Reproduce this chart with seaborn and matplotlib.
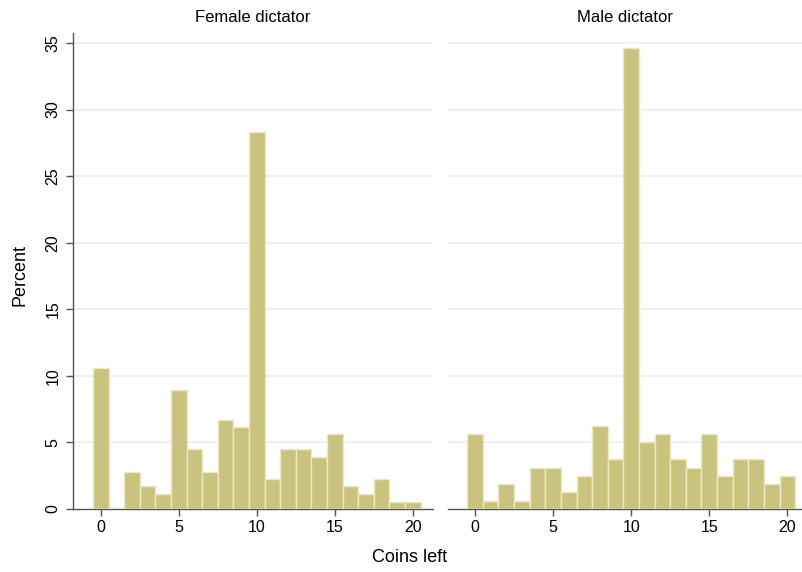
import numpy as np
import matplotlib
matplotlib.use('Agg')
import matplotlib.pyplot as plt
import pandas as pd
import seaborn as sns

coins = list(range(21))
female_pct = [10.6, 0.0, 2.8, 1.7, 1.1, 8.95, 4.5, 2.8, 6.7, 6.15, 28.35,
              2.25, 4.5, 4.5, 3.9, 5.6, 1.7, 1.1, 2.25, 0.56, 0.56]
male_pct = [5.6, 0.62, 1.9, 0.62, 3.1, 3.1, 1.25, 2.5, 6.2, 3.75, 34.65,
            5.0, 5.6, 3.75, 3.1, 5.6, 2.5, 3.75, 3.75, 1.9, 2.5]
panel_titles = ['Female dictator', 'Male dictator']
y_ticks = [0, 5, 10, 15, 20, 25, 30, 35]
x_ticks = [0, 5, 10, 15, 20]

sns.set_style('white')
plt.rcParams['font.family'] = ['Liberation Sans', 'DejaVu Sans']
plt.rcParams['text.color'] = 'black'
plt.rcParams['xtick.color'] = 'black'
plt.rcParams['ytick.color'] = 'black'

bar_color = '#CAC37F'
edge_color = '#EDE9BE'
grid_color = '#E8EFF3'
axis_color = '#555555'

fig = plt.figure(figsize=(8.03, 5.72), dpi=100)
W, H = 803, 572
ax1 = fig.add_axes([73 / W, (H - 509) / H, 360 / W, 476 / H])
ax2 = fig.add_axes([448 / W, (H - 509) / H, 355 / W, 476 / H])

for ax, pct, title, xlim in [(ax1, female_pct, panel_titles[0], (-1.78, 21.3)),
                             (ax2, male_pct, panel_titles[1], (-1.73, 21.0))]:
    df = pd.DataFrame({'coins': coins, 'pct': pct})
    df = df[df['pct'] > 0]
    sns.histplot(data=df, x='coins', weights='pct', discrete=True, ax=ax,
                 color=bar_color, edgecolor=edge_color, linewidth=1.0,
                 alpha=1, zorder=3)
    ax.set_xlim(*xlim)
    ax.set_ylim(0, 35.75)
    ax.set_yticks(y_ticks)
    ax.set_xticks(x_ticks)
    for yv in y_ticks[1:]:
        ax.axhline(yv, color=grid_color, lw=1.2, zorder=1)
    ax.set_title(title, fontsize=12, pad=8, color='black')
    ax.set_xlabel('')
    ax.set_ylabel('')
    for s in ['top', 'right']:
        ax.spines[s].set_visible(False)
    ax.spines['bottom'].set_color(axis_color)
    ax.spines['bottom'].set_linewidth(1.0)
    ax.tick_params(axis='x', direction='out', length=5, width=1.0,
                   color=axis_color, labelcolor='black', labelsize=11.5,
                   pad=3, bottom=True)

ax1.spines['left'].set_color(axis_color)
ax1.spines['left'].set_linewidth(1.0)
ax1.tick_params(axis='y', direction='out', length=5, width=1.0,
                color=axis_color, labelcolor='black', labelsize=11.5, pad=4,
                left=True, labelrotation=90)
for lab in ax1.get_yticklabels():
    lab.set_verticalalignment('center')
ax2.spines['left'].set_visible(False)
ax2.tick_params(axis='y', left=False, labelleft=False)

fig.text(20 / W, 1 - 275 / H, 'Percent', rotation=90, fontsize=13,
         ha='center', va='center')
fig.text(410 / W, 1 - 558 / H, 'Coins left', fontsize=13,
         ha='center', va='center')

fig.savefig('out.png', dpi=100)
